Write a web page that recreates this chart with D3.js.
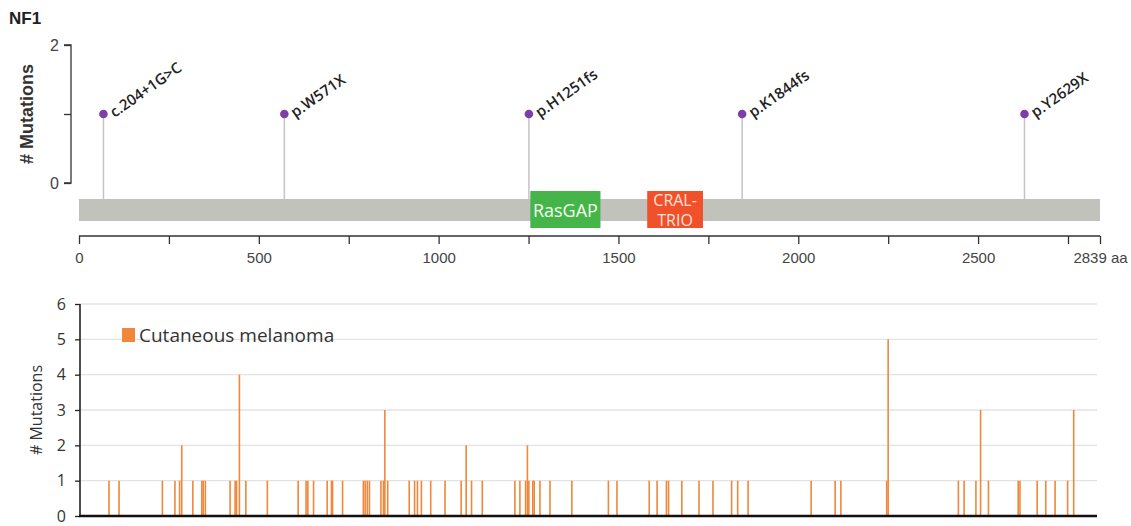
<!DOCTYPE html>
<html>
<head>
<meta charset="utf-8">
<script src="https://cdn.jsdelivr.net/npm/d3@7"></script>
<style>
  body { margin: 0; background: #fff; }
  svg { display: block; }
</style>
</head>
<body>
<div id="root"></div>
<script>
// NF1 : lollipop des mutations + histogramme mélanome cutané
const PROTEIN_LEN = 2839;

const LOLLI_LABELS = ['c.204+1G>C', 'p.W571X', 'p.H1251fs', 'p.K1844fs', 'p.Y2629X'];
const LOLLI_POS = [68, 571, 1251, 1844, 2629];
const LOLLI_COUNT = [1, 1, 1, 1, 1];

const DOMAIN_NAMES = ['RasGAP', 'CRAL-TRIO'];
const DOMAIN_START = [1255, 1580];
const DOMAIN_END = [1450, 1735];
const DOMAIN_COLORS = ['#45b549', '#f0502a'];

const AA_TICKS = [0, 250, 500, 750, 1000, 1250, 1500, 1750, 2000, 2250, 2500, 2750, 2839];

// positions (aa) et nombre de mutations, mélanome cutané
const MEL_POS = [81, 109, 230, 265, 278, 284, 315, 340, 344, 350, 419, 433, 437, 445, 463,
  523, 609, 631, 636, 652, 690, 702, 705, 733, 791, 796, 802, 808, 840, 847, 851, 859,
  919, 934, 942, 953, 979, 1019, 1064, 1078, 1093, 1123, 1214, 1228, 1244, 1249, 1253,
  1264, 1268, 1284, 1312, 1373, 1475, 1499, 1589, 1611, 1637, 1643, 1680, 1728, 1767,
  1819, 1836, 1865, 2041, 2108, 2124, 2252, 2256, 2452, 2468, 2501, 2514, 2536, 2619,
  2624, 2672, 2696, 2722, 2757, 2774];
const MEL_COUNT = [1, 1, 1, 1, 1, 2, 1, 1, 1, 1, 1, 1, 1, 4, 1,
  1, 1, 1, 1, 1, 1, 1, 1, 1, 1, 1, 1, 1, 1, 1, 3, 1,
  1, 1, 1, 1, 1, 1, 1, 2, 1, 1, 1, 1, 1, 2, 1,
  1, 1, 1, 1, 1, 1, 1, 1, 1, 1, 1, 1, 1, 1,
  1, 1, 1, 1, 1, 1, 1, 5, 1, 1, 1, 3, 1, 1,
  1, 1, 1, 1, 1, 3];
const MEL_TICKS = [0, 1, 2, 3, 4, 5, 6];

const W = 1131, H = 526;
const ORANGE = '#f0873a';

const svg = d3.select('#root').append('svg')
  .attr('width', W).attr('height', H)
  .attr('viewBox', `0 0 ${W} ${H}`);

// ---------- partie haute ----------
const x = d3.scaleLinear().domain([0, PROTEIN_LEN]).range([79, 1100]);
const y = d3.scaleLinear().domain([0, 2]).range([183, 45]);

svg.append('text')
  .attr('x', 9).attr('y', 24)
  .style('font', 'bold 17px "Liberation Sans", Arial, sans-serif')
  .attr('fill', '#222')
  .text('NF1');

svg.append('g')
  .attr('transform', 'translate(71,0)')
  .call(d3.axisLeft(y).tickValues([0, 1, 2]).tickSize(7).tickPadding(5)
    .tickFormat((d) => (d === 1 ? '' : d)))
  .call((ax) => ax.select('.domain').attr('stroke', '#333').attr('stroke-width', 1.3)
    .attr('d', `M-7,${y(2)}H0V${y(0)}H-7`))
  .call((ax) => ax.selectAll('line').attr('stroke', '#333').attr('stroke-width', 1.3))
  .call((ax) => ax.selectAll('text').attr('fill', '#444')
    .style('font', '16px "Liberation Sans", Arial, sans-serif'));

svg.append('text')
  .attr('transform', `translate(33,${y(1)}) rotate(-90)`)
  .attr('text-anchor', 'middle')
  .style('font', 'bold 18px "Liberation Sans", Arial, sans-serif')
  .attr('fill', '#333')
  .text('# Mutations');

// tiges
const BAR_TOP = 199, BAR_BOT = 221;
svg.append('g').selectAll('line')
  .data(LOLLI_POS)
  .join('line')
  .attr('x1', (d) => x(d)).attr('x2', (d) => x(d))
  .attr('y1', (d, i) => y(LOLLI_COUNT[i])).attr('y2', BAR_TOP)
  .attr('stroke', '#c4c4c4').attr('stroke-width', 1.5);

// protéine
svg.append('rect')
  .attr('x', x(0)).attr('y', BAR_TOP)
  .attr('width', x(PROTEIN_LEN) - x(0)).attr('height', BAR_BOT - BAR_TOP)
  .attr('fill', '#c2c2bd');

// domaines
const dom = svg.append('g').selectAll('g')
  .data(DOMAIN_NAMES)
  .join('g');
dom.append('rect')
  .attr('x', (d, i) => x(DOMAIN_START[i]))
  .attr('y', 191)
  .attr('width', (d, i) => x(DOMAIN_END[i]) - x(DOMAIN_START[i]))
  .attr('height', 37)
  .attr('fill', (d, i) => DOMAIN_COLORS[i]);
dom.each(function (d, i) {
  const cx = (x(DOMAIN_START[i]) + x(DOMAIN_END[i])) / 2;
  const g = d3.select(this);
  if (d === 'RasGAP') {
    g.append('text').attr('x', cx).attr('y', 217)
      .attr('text-anchor', 'middle').attr('fill', '#f4fff2')
      .style('font', '18px "Open Sans", sans-serif').text(d);
  } else {
    const parts = ['CRAL-', 'TRIO'];
    g.selectAll('text').data(parts).join('text')
      .attr('x', cx).attr('y', (p, k) => 206 + k * 20)
      .attr('text-anchor', 'middle').attr('fill', '#ffe3da')
      .style('font', '16px "Open Sans", sans-serif').text((p) => p);
  }
});

// têtes de sucettes
svg.append('g').selectAll('circle')
  .data(LOLLI_POS)
  .join('circle')
  .attr('cx', (d) => x(d))
  .attr('cy', (d, i) => y(LOLLI_COUNT[i]))
  .attr('r', 4.3)
  .attr('fill', '#7d3fa6');

svg.append('g').selectAll('text')
  .data(LOLLI_LABELS)
  .join('text')
  .attr('transform', (d, i) => `translate(${x(LOLLI_POS[i]) + 11},${y(LOLLI_COUNT[i]) + 4}) rotate(-35)`)
  .style('font', '15px "Open Sans", sans-serif')
  .style('font-weight', 600)
  .attr('fill', '#222')
  .text((d) => d);

// axe des acides aminés
svg.append('g')
  .attr('transform', 'translate(0,236)')
  .call(d3.axisBottom(x).tickValues(AA_TICKS).tickSize(8).tickPadding(8)
    .tickFormat((d) => (d === PROTEIN_LEN ? '2839 aa' : d % 500 === 0 ? d : '')))
  .call((ax) => ax.select('.domain').attr('stroke', '#333').attr('stroke-width', 1.3)
    .attr('d', `M${x(0)},0H${x(PROTEIN_LEN)}`))
  .call((ax) => ax.selectAll('line').attr('stroke', '#333').attr('stroke-width', 1.3))
  .call((ax) => ax.selectAll('text').attr('fill', '#444')
    .style('font', '15px "Liberation Sans", Arial, sans-serif'));

// ---------- partie basse ----------
const x2 = d3.scaleLinear().domain([0, PROTEIN_LEN]).range([80, 1097]);
const y2 = d3.scaleLinear().domain([0, 6]).range([516, 304]);

svg.append('g')
  .selectAll('line')
  .data(MEL_TICKS.filter((t) => t > 0))
  .join('line')
  .attr('x1', 80).attr('x2', 1097)
  .attr('y1', (d) => y2(d)).attr('y2', (d) => y2(d))
  .attr('stroke', '#e3e3e3').attr('stroke-width', 1.3);

svg.append('g').selectAll('line')
  .data(MEL_POS)
  .join('line')
  .attr('x1', (d) => x2(d)).attr('x2', (d) => x2(d))
  .attr('y1', y2(0)).attr('y2', (d, i) => y2(MEL_COUNT[i]))
  .attr('stroke', ORANGE).attr('stroke-width', 1.6);

svg.append('g')
  .attr('transform', 'translate(80,0)')
  .call(d3.axisLeft(y2).tickValues(MEL_TICKS).tickSize(5).tickPadding(9).tickFormat(d3.format('d')))
  .call((ax) => ax.select('.domain').attr('stroke', '#222').attr('stroke-width', 1.6)
    .attr('d', `M0,${y2(6)}V${y2(0)}`))
  .call((ax) => ax.selectAll('line').attr('stroke', '#222').attr('stroke-width', 1.3))
  .call((ax) => ax.selectAll('text').attr('fill', '#333')
    .style('font', '16px "Open Sans", sans-serif'));

svg.append('line')
  .attr('x1', 79).attr('x2', 1097)
  .attr('y1', y2(0)).attr('y2', y2(0))
  .attr('stroke', '#111').attr('stroke-width', 2.4);

svg.append('text')
  .attr('transform', `translate(42,${(y2(0) + y2(6)) / 2}) rotate(-90)`)
  .attr('text-anchor', 'middle')
  .style('font', '16px "Open Sans", sans-serif')
  .attr('fill', '#333')
  .text('# Mutations');

svg.append('rect')
  .attr('x', 122).attr('y', 328).attr('width', 13).attr('height', 14)
  .attr('fill', ORANGE);
svg.append('text')
  .attr('x', 139).attr('y', 342)
  .style('font', '19px "Open Sans", sans-serif')
  .attr('fill', '#333')
  .text('Cutaneous melanoma');
</script>
</body>
</html>
